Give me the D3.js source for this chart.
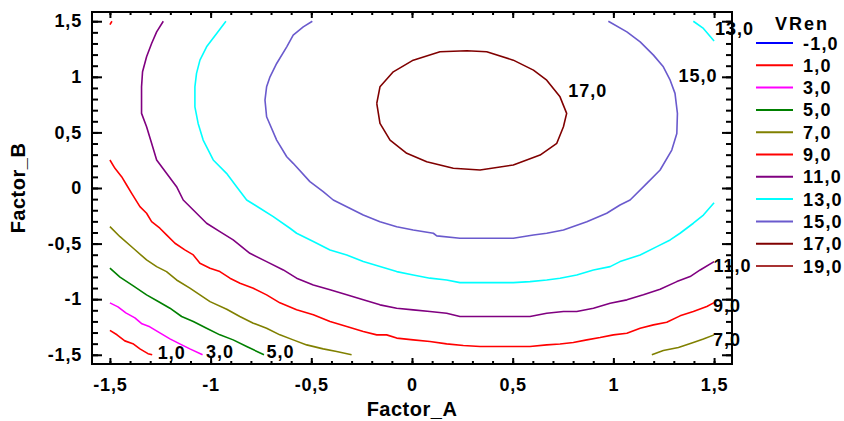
<!DOCTYPE html>
<html><head><meta charset="utf-8">
<script src="https://cdn.jsdelivr.net/npm/d3@7"></script>
<style>
body{margin:0;background:#fff}
text{font-family:Arial,"Liberation Sans",sans-serif;font-weight:bold;fill:#000}
</style>
</head><body>
<svg id="chart" width="844" height="421"></svg>
<script>
// ---- data ----
const levels = [-1, 1, 3, 5, 7, 9, 11, 13, 15, 17, 19];
const levelLabels = ["-1,0","1,0","3,0","5,0","7,0","9,0","11,0","13,0","15,0","17,0","19,0"];
const levelColors = ["#0000ff","#ff0000","#ff00ff","#008000","#808000","#ff0000","#800080","#00ffff","#6a5acd","#800000","#a83232"];
const xTicks = [-1.5, -1, -0.5, 0, 0.5, 1, 1.5];
const yTicks = [-1.5, -1, -0.5, 0, 0.5, 1, 1.5];
const xTickLabels = ["-1,5","-1","-0,5","0","0,5","1","1,5"];
const yTickLabels = ["-1,5","-1","-0,5","0","0,5","1","1,5"];

const contour1 = [[-1.5,-1.28],[-1.465,-1.32],[-1.426,-1.375],[-1.386,-1.40],[-1.351,-1.447],[-1.311,-1.49],[-1.29,-1.5]];
const contour3 = [[-1.5,-1.033],[-1.46,-1.069],[-1.421,-1.123],[-1.376,-1.168],[-1.341,-1.222],[-1.302,-1.249],[-1.252,-1.303],[-1.202,-1.357],[-1.153,-1.402],[-1.103,-1.447],[-1.04,-1.5]];
const contour5 = [[-1.5,-0.721],[-1.45,-0.802],[-1.384,-0.88],[-1.318,-0.961],[-1.26,-1.021],[-1.202,-1.081],[-1.144,-1.156],[-1.086,-1.201],[-1.02,-1.261],[-0.954,-1.321],[-0.888,-1.366],[-0.821,-1.426],[-0.735,-1.5]];
const contour7a = [[-1.5,-0.348],[-1.45,-0.438],[-1.384,-0.542],[-1.318,-0.647],[-1.268,-0.707],[-1.219,-0.752],[-1.169,-0.827],[-1.103,-0.901],[-1.053,-0.961],[-1.003,-1.022],[-0.92,-1.09],[-0.855,-1.156],[-0.788,-1.216],[-0.722,-1.261],[-0.656,-1.321],[-0.59,-1.366],[-0.523,-1.411],[-0.441,-1.447],[-0.374,-1.471],[-0.3,-1.5]];
const contour7b = [[1.191,-1.5],[1.248,-1.462],[1.323,-1.435],[1.397,-1.39],[1.447,-1.359],[1.5,-1.321]];
const contour9a = [[-1.5,0.252],[-1.475,0.177],[-1.442,0.102],[-1.417,0.027],[-1.392,-0.048],[-1.351,-0.168],[-1.318,-0.227],[-1.293,-0.303],[-1.252,-0.362],[-1.219,-0.422],[-1.177,-0.497],[-1.128,-0.557],[-1.086,-0.602],[-1.053,-0.677],[-1.003,-0.721],[-0.954,-0.752],[-0.904,-0.811],[-0.854,-0.856],[-0.788,-0.901],[-0.722,-0.961],[-0.656,-1.033],[-0.573,-1.096],[-0.49,-1.141],[-0.407,-1.201],[-0.324,-1.246],[-0.242,-1.291],[-0.175,-1.321],[-0.126,-1.321],[-0.076,-1.35],[0.006,-1.366],[0.089,-1.381],[0.172,-1.402],[0.255,-1.417],[0.338,-1.426],[0.586,-1.426],[0.669,-1.411],[0.735,-1.403],[0.801,-1.39],[0.868,-1.366],[0.934,-1.345],[1.0,-1.321],[1.067,-1.306],[1.133,-1.261],[1.199,-1.231],[1.265,-1.207],[1.331,-1.15],[1.397,-1.111],[1.464,-1.066],[1.5,-1.031]];
const contour9b = [[-1.5,1.47],[-1.49,1.5]];
const contour11 = [[-1.235,1.5],[-1.268,1.404],[-1.293,1.3],[-1.318,1.18],[-1.338,1.045],[-1.343,0.91],[-1.343,0.671],[-1.318,0.551],[-1.293,0.402],[-1.268,0.252],[-1.219,0.132],[-1.169,0.012],[-1.136,-0.108],[-1.086,-0.198],[-1.02,-0.317],[-0.954,-0.393],[-0.888,-0.467],[-0.805,-0.587],[-0.722,-0.662],[-0.639,-0.737],[-0.573,-0.811],[-0.49,-0.872],[-0.407,-0.916],[-0.324,-0.961],[-0.242,-1.006],[-0.159,-1.051],[-0.076,-1.081],[0.006,-1.096],[0.089,-1.111],[0.172,-1.126],[0.238,-1.156],[0.338,-1.156],[0.586,-1.156],[0.669,-1.126],[0.752,-1.111],[0.818,-1.111],[0.901,-1.081],[0.984,-1.036],[1.067,-1.006],[1.149,-0.961],[1.232,-0.91],[1.315,-0.842],[1.381,-0.797],[1.431,-0.737],[1.5,-0.662]];
const contour13a = [[-0.924,1.5],[-0.97,1.39],[-1.02,1.27],[-1.053,1.15],[-1.07,1.031],[-1.078,0.91],[-1.078,0.73],[-1.062,0.581],[-1.037,0.431],[-0.987,0.252],[-0.921,0.132],[-0.871,0.012],[-0.821,-0.108],[-0.755,-0.182],[-0.689,-0.258],[-0.606,-0.362],[-0.573,-0.407],[-0.49,-0.482],[-0.407,-0.557],[-0.324,-0.602],[-0.242,-0.662],[-0.159,-0.707],[-0.076,-0.752],[0.006,-0.782],[0.089,-0.811],[0.172,-0.827],[0.238,-0.851],[0.503,-0.851],[0.586,-0.842],[0.669,-0.827],[0.735,-0.811],[0.818,-0.782],[0.901,-0.737],[0.984,-0.707],[1.033,-0.662],[1.133,-0.602],[1.216,-0.527],[1.282,-0.467],[1.331,-0.407],[1.397,-0.317],[1.447,-0.243],[1.5,-0.132]];
const contour13b = [[1.397,1.5],[1.447,1.435],[1.5,1.323]];
const contour15 = [[-0.495,1.5],[-0.54,1.449],[-0.59,1.375],[-0.622,1.27],[-0.672,1.12],[-0.705,1.0],[-0.722,0.91],[-0.73,0.791],[-0.722,0.641],[-0.672,0.431],[-0.622,0.281],[-0.59,0.222],[-0.507,0.057],[-0.441,-0.033],[-0.391,-0.108],[-0.324,-0.168],[-0.242,-0.243],[-0.159,-0.303],[-0.076,-0.348],[0.006,-0.377],[0.106,-0.407],[0.123,-0.431],[0.238,-0.452],[0.503,-0.452],[0.603,-0.422],[0.669,-0.407],[0.752,-0.377],[0.868,-0.303],[0.967,-0.227],[1.033,-0.153],[1.083,-0.108],[1.166,0.042],[1.232,0.162],[1.29,0.341],[1.315,0.491],[1.318,0.671],[1.306,0.851],[1.282,0.97],[1.248,1.09],[1.199,1.195],[1.133,1.314],[1.067,1.404],[0.975,1.5]];
const contour17 = [[-0.175,0.761],[-0.159,0.91],[-0.093,1.045],[0.006,1.15],[0.139,1.225],[0.272,1.234],[0.371,1.225],[0.503,1.15],[0.603,1.06],[0.669,0.97],[0.735,0.82],[0.768,0.671],[0.752,0.551],[0.719,0.402],[0.636,0.296],[0.503,0.207],[0.338,0.162],[0.205,0.177],[0.073,0.236],[-0.026,0.312],[-0.109,0.431],[-0.159,0.581],[-0.175,0.761]];

const contourLines = [
  {level: 1, pts: contour1}, {level: 3, pts: contour3}, {level: 5, pts: contour5},
  {level: 7, pts: contour7a}, {level: 7, pts: contour7b},
  {level: 9, pts: contour9a}, {level: 9, pts: contour9b},
  {level: 11, pts: contour11}, {level: 13, pts: contour13a}, {level: 13, pts: contour13b},
  {level: 15, pts: contour15}, {level: 17, pts: contour17}
];
// contour label texts and anchor positions (data coords)
const labelTexts = ["1,0","3,0","5,0","7,0","9,0","11,0","13,0","15,0","17,0"];
const labelX = [-1.262, -1.023, -0.722, 1.495, 1.495, 1.497, 1.505, 1.323, 0.776];
const labelY = [-1.536, -1.532, -1.527, -1.42, -1.111, -0.752, 1.375, 0.955, 0.818];

// ---- layout ----
const svg = d3.select("#chart");
const L = 92, R = 732, T = 12, B = 364;
const x = d3.scaleLinear().domain([-1.589, 1.589]).range([L, R]);
const y = d3.scaleLinear().domain([-1.583, 1.583]).range([B, T]);
const colorOf = d3.scaleOrdinal().domain(levels).range(levelColors);
const minorX = d3.range(-15, 16).map(d => d / 10);
const minorY = d3.range(-15, 16).map(d => d / 10);

// contours
const line = d3.line().x(d => x(d[0])).y(d => y(d[1]));
svg.append("g").selectAll("path").data(contourLines).join("path")
  .attr("d", d => line(d.pts)).attr("fill", "none")
  .attr("stroke", d => colorOf(d.level)).attr("stroke-width", 1.6)
  .attr("stroke-linejoin", "round");

// axes
function styleAxis(g) {
  g.select(".domain").remove();
  g.selectAll(".tick line").attr("stroke", "#000").attr("stroke-width", 2);
  g.selectAll(".tick text").style("font-size", "18px").style("letter-spacing", "0.8px").attr("fill", "#000");
}
const fmtX = (d) => xTickLabels[xTicks.indexOf(d)];
const fmtY = (d) => yTickLabels[yTicks.indexOf(d)];
// minor
svg.append("g").attr("transform", `translate(0,${B})`).call(d3.axisBottom(x).tickValues(minorX).tickSize(-3).tickFormat("")).call(styleAxis);
svg.append("g").attr("transform", `translate(0,${T})`).call(d3.axisTop(x).tickValues(minorX).tickSize(-3).tickFormat("")).call(styleAxis);
svg.append("g").attr("transform", `translate(${L},0)`).call(d3.axisLeft(y).tickValues(minorY).tickSize(-6).tickFormat("")).call(styleAxis);
svg.append("g").attr("transform", `translate(${R},0)`).call(d3.axisRight(y).tickValues(minorY).tickSize(-6).tickFormat("")).call(styleAxis);
// major
svg.append("g").attr("transform", `translate(0,${B})`).call(d3.axisBottom(x).tickValues(xTicks).tickSize(-6).tickPadding(14).tickFormat(fmtX)).call(styleAxis);
svg.append("g").attr("transform", `translate(0,${T})`).call(d3.axisTop(x).tickValues(xTicks).tickSize(-6).tickFormat("")).call(styleAxis);
svg.append("g").attr("transform", `translate(${L},0)`).call(d3.axisLeft(y).tickValues(yTicks).tickSize(-10).tickPadding(10).tickFormat(fmtY)).call(styleAxis);
svg.append("g").attr("transform", `translate(${R},0)`).call(d3.axisRight(y).tickValues(yTicks).tickSize(-10).tickFormat("")).call(styleAxis);
// frame
svg.append("rect").attr("x", L).attr("y", T).attr("width", R - L).attr("height", B - T)
  .attr("fill", "none").attr("stroke", "#000").attr("stroke-width", 2);

// contour labels
svg.append("g").selectAll("text").data(labelTexts).join("text")
  .attr("x", (d, i) => x(labelX[i])).attr("y", (d, i) => y(labelY[i]))
  .style("font-size", "18px").style("letter-spacing", "1px").text(d => d);

// axis titles
svg.append("text").attr("x", (L + R) / 2).attr("y", 416).attr("text-anchor", "middle")
  .style("font-size", "20px").style("letter-spacing", "0.5px").text("Factor_A");
svg.append("text").attr("transform", `translate(25,${(T + B) / 2}) rotate(-90)`).attr("text-anchor", "middle")
  .style("font-size", "20px").style("letter-spacing", "0.5px").text("Factor_B");

// legend
const lg = svg.append("g");
lg.append("text").attr("x", 775).attr("y", 30).style("font-size", "18px").style("letter-spacing", "2px").text("VRen");
const rows = lg.selectAll("g.row").data(levels).join("g").attr("class", "row")
  .attr("transform", (d, i) => `translate(0,${43 + i * 22.3})`);
rows.append("line").attr("x1", 756).attr("x2", 793).attr("y1", 0).attr("y2", 0)
  .attr("stroke", d => colorOf(d)).attr("stroke-width", 2);
rows.append("text").attr("x", 803).attr("y", 6.5).style("font-size", "18px").style("letter-spacing", "1.2px")
  .text((d, i) => levelLabels[i]);
</script>
</body></html>
